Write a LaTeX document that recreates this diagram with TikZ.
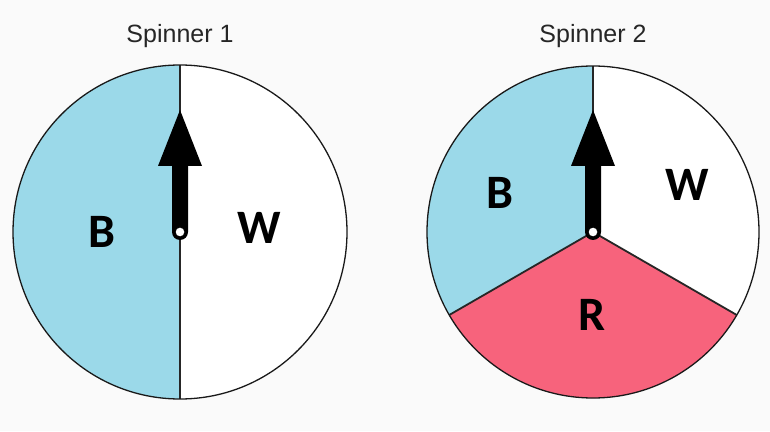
\documentclass[tikz,border=0pt]{standalone}
\usepackage{fontspec}
\setmainfont{Liberation Sans}
\newfontfamily\lblfont{Carlito}
\definecolor{bgc}{HTML}{FAFAFA}
\definecolor{sblue}{HTML}{9BD9E9}
\definecolor{sred}{HTML}{F7637C}
\tikzset{
  needlepic/.pic={
    \fill[black] (-8,0) -- (-8,66) -- (-22,66) -- (0,122) -- (22,66) -- (8,66) -- (8,0)
      arc[start angle=0,end angle=-180,radius=8] -- cycle;
  }
}
\begin{document}
\begin{tikzpicture}[x=1pt,y=1pt,
  rim/.style={draw=black!90,line width=1.3pt},
  divider/.style={draw=black!85,line width=1.8pt},
  title/.style={font=\fontsize{25}{30}\selectfont, text=black!85, anchor=base},
  seglabel/.style={font=\lblfont\bfseries\fontsize{48}{54}\selectfont, inner sep=0pt},
  pivot/.style={circle,draw=black,fill=white,line width=1pt,inner sep=0pt,minimum size=10pt}]
\fill[bgc] (0,0) rectangle (770,431);
\useasboundingbox (0,0) rectangle (770,431);

% ---------- Spinner 1 ----------
\coordinate (c1) at (180,199);
\coordinate (top1) at (180,366);
\coordinate (bot1) at (180,32);
\fill[white] (c1) circle[radius=167];
\fill[sblue] (top1) arc[start angle=90,end angle=270,radius=167] -- cycle;
\draw[divider] (top1) -- (bot1);
\draw[rim] (c1) circle[radius=167];
\pic at (c1) {needlepic};
\node[pivot] (p1) at (c1) {};
\node[title] (title1) at (180,388) {Spinner 1};
\node[seglabel] (b1) at (102,199) {B};
\node[seglabel] (w1) at (259,203) {W};

% ---------- Spinner 2 ----------
\coordinate (c2) at (593,199);
\coordinate (top2) at (593,365);
\coordinate (l2) at ([shift={(210:166)}]c2);
\coordinate (r2) at ([shift={(330:166)}]c2);
\fill[white] (c2) circle[radius=166];
\fill[sblue] (c2) -- (top2) arc[start angle=90,end angle=210,radius=166] -- cycle;
\fill[sred] (c2) -- (l2) arc[start angle=210,end angle=330,radius=166] -- cycle;
\draw[divider] (top2) -- (c2);
\draw[divider] (l2) -- (c2) -- (r2);
\draw[rim] (c2) circle[radius=166];
\pic at (c2) {needlepic};
\node[pivot] (p2) at (c2) {};
\node[title] (title2) at (593,388) {Spinner 2};
\node[seglabel] (b2) at (500,238) {B};
\node[seglabel] (w2) at (687,246) {W};
\node[seglabel] (r2l) at (592,116) {R};
\end{tikzpicture}
\end{document}
